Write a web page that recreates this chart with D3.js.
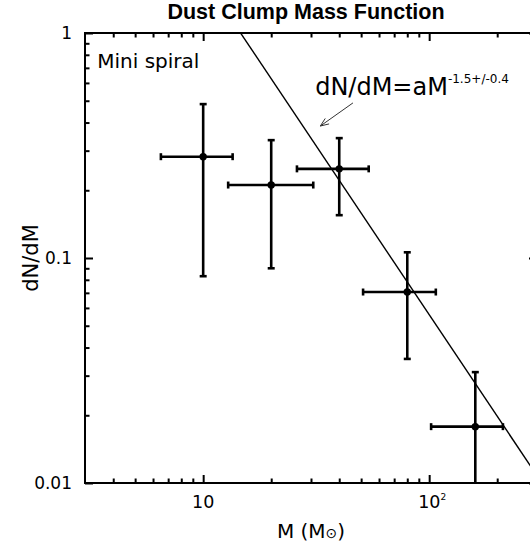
<!DOCTYPE html>
<html><head><meta charset="utf-8">
<script src="https://cdn.jsdelivr.net/npm/d3@7"></script>
<style>body{margin:0;background:#fff}svg{display:block}text{font-family:"DejaVu Sans",sans-serif;fill:#000}</style>
</head><body><div id="chart"></div>
<script>
// Data
const mass   = [10, 20, 40, 80, 160];
const dndm   = [0.282, 0.211, 0.249, 0.0706, 0.0178];
const massLo = [6.5, 12.9, 26, 51, 102];
const massHi = [13.5, 30.7, 54, 107, 212];
const dndmLo = [0.083, 0.090, 0.155, 0.0356, 0.005];
const dndmHi = [0.483, 0.334, 0.341, 0.106, 0.0311];
const fitA = 56, fitIndex = -1.5;
const fitRange = [10, 500];
const xMajor = [10, 100];
const xMinor = [4,5,6,7,8,9,20,30,40,50,60,70,80,90,200,300];
const yMajor = [0.01, 0.1, 1];
const yMinor = [0.02,0.03,0.04,0.05,0.06,0.07,0.08,0.09,0.2,0.3,0.4,0.5,0.6,0.7,0.8,0.9];
const yTickLabels = ["0.01", "0.1", "1"];

const W = 530, H = 550;
const m = {left: 85, top: 33, right: 537, bottom: 483};
const x = d3.scaleLog().domain([3, 300]).range([m.left, m.right]);
const y = d3.scaleLog().domain([0.01, 1]).range([m.bottom, m.top]);

const svg = d3.select("#chart").append("svg").attr("width", W).attr("height", H);
svg.append("defs").append("clipPath").attr("id", "clip")
  .append("rect").attr("x", m.left).attr("y", m.top)
  .attr("width", m.right - m.left).attr("height", m.bottom - m.top);

// Title
svg.append("text").attr("x", 306).attr("y", 19).attr("text-anchor", "middle")
  .style("font-family", "'Liberation Sans', Arial, sans-serif")
  .style("font-weight", "bold").style("font-size", "21.5px")
  .text("Dust Clump Mass Function");

// Axes (ticks inside)
const bottomMaj = d3.axisBottom(x).tickValues(xMajor).tickSize(-8).tickFormat("");
const bottomMin = d3.axisBottom(x).tickValues(xMinor).tickSize(-4.5).tickFormat("");
const topMaj = d3.axisTop(x).tickValues(xMajor).tickSize(-8).tickFormat("");
const topMin = d3.axisTop(x).tickValues(xMinor).tickSize(-4.5).tickFormat("");
const leftMaj = d3.axisLeft(y).tickValues(yMajor).tickSize(-8).tickFormat("");
const leftMin = d3.axisLeft(y).tickValues(yMinor).tickSize(-4.5).tickFormat("");
const rightMaj = d3.axisRight(y).tickValues(yMajor).tickSize(-8).tickFormat("");
const rightMin = d3.axisRight(y).tickValues(yMinor).tickSize(-4.5).tickFormat("");

function addAxis(ax, tr) {
  const g = svg.append("g").attr("transform", tr).call(ax);
  g.select(".domain").remove();
  g.selectAll("line").attr("stroke", "#000").attr("stroke-width", 2);
}
addAxis(bottomMaj, `translate(0,${m.bottom})`);
addAxis(bottomMin, `translate(0,${m.bottom})`);
addAxis(topMaj, `translate(0,${m.top})`);
addAxis(topMin, `translate(0,${m.top})`);
addAxis(leftMaj, `translate(${m.left},0)`);
addAxis(leftMin, `translate(${m.left},0)`);
addAxis(rightMaj, `translate(${m.right},0)`);
addAxis(rightMin, `translate(${m.right},0)`);

svg.append("rect").attr("x", m.left).attr("y", m.top)
  .attr("width", m.right - m.left).attr("height", m.bottom - m.top)
  .attr("fill", "none").attr("stroke", "#000").attr("stroke-width", 2);

// Tick labels
yMajor.forEach((v, i) => {
  svg.append("text").attr("x", 72).attr("y", y(v)).attr("dy", "0.36em")
    .attr("text-anchor", "end").style("font-size", "17px").text(yTickLabels[i]);
});
svg.append("text").attr("x", x(10)).attr("y", 508).attr("text-anchor", "middle")
  .style("font-size", "17.5px").text("10");
const t2 = svg.append("text").attr("x", x(100) - 11).attr("y", 508).style("font-size", "17.5px");
t2.append("tspan").text("10");
t2.append("tspan").attr("dy", -8).style("font-size", "9px").text("2");

// Axis titles
const xt = svg.append("text").attr("x", 311).attr("y", 538).attr("text-anchor", "middle")
  .style("font-size", "20px");
xt.append("tspan").text("M (M");
xt.append("tspan").style("font-size", "14px").text("\u2299");
xt.append("tspan").text(")");
svg.append("text").attr("transform", `translate(38,${(m.top + m.bottom) / 2}) rotate(-90)`)
  .attr("text-anchor", "middle").style("font-size", "21px").text("dN/dM");

// Plot content
const plot = svg.append("g").attr("clip-path", "url(#clip)");

// Fit line
plot.append("line")
  .attr("x1", x(fitRange[0])).attr("y1", y(fitA * Math.pow(fitRange[0], fitIndex)))
  .attr("x2", x(fitRange[1])).attr("y2", y(fitA * Math.pow(fitRange[1], fitIndex)))
  .attr("stroke", "#000").attr("stroke-width", 1.4);

// Error bars
const cap = 3.5;
mass.forEach((M, i) => {
  const g = plot.append("g").attr("stroke", "#000").attr("stroke-width", 2.6);
  g.append("line").attr("x1", x(M)).attr("x2", x(M)).attr("y1", y(dndmLo[i])).attr("y2", y(dndmHi[i]));
  g.append("line").attr("x1", x(massLo[i])).attr("x2", x(massHi[i])).attr("y1", y(dndm[i])).attr("y2", y(dndm[i]));
  [dndmLo[i], dndmHi[i]].forEach(v => g.append("line").attr("x1", x(M) - cap).attr("x2", x(M) + cap).attr("y1", y(v)).attr("y2", y(v)));
  [massLo[i], massHi[i]].forEach(v => g.append("line").attr("x1", x(v)).attr("x2", x(v)).attr("y1", y(dndm[i]) - cap).attr("y2", y(dndm[i]) + cap));
  plot.append("circle").attr("cx", x(M)).attr("cy", y(dndm[i])).attr("r", 3.7).attr("fill", "#000");
});

// Annotations
svg.append("text").attr("x", x(3.4)).attr("y", y(0.70)).style("font-size", "20px").text("Mini spiral");
const f = svg.append("text").attr("x", x(31.3)).attr("y", y(0.53)).style("font-size", "24px");
f.append("tspan").text("dN/dM=aM");
f.append("tspan").attr("dy", -12).style("font-size", "12px").text("-1.5+/-0.4");

// Arrow
const ax1 = x(46), ay1 = y(0.489), ax2 = x(33), ay2 = y(0.386);
svg.append("line").attr("x1", ax1).attr("y1", ay1).attr("x2", ax2).attr("y2", ay2)
  .attr("stroke", "#333").attr("stroke-width", 1);
const ang = Math.atan2(ay2 - ay1, ax2 - ax1);
const hl = 9, hw = 0.38;
svg.append("path")
  .attr("d", `M${ax2 - hl*Math.cos(ang - hw)},${ay2 - hl*Math.sin(ang - hw)} L${ax2},${ay2} L${ax2 - hl*Math.cos(ang + hw)},${ay2 - hl*Math.sin(ang + hw)}`)
  .attr("fill", "none").attr("stroke", "#333").attr("stroke-width", 1);
</script></body></html>
